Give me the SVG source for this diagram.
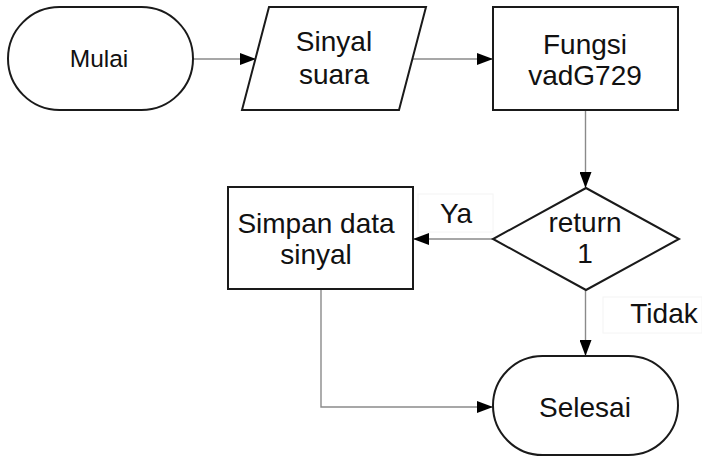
<svg xmlns="http://www.w3.org/2000/svg" width="702" height="457" viewBox="0 0 702 457">
  <style>
    .shape { fill: #ffffff; stroke: #1a1a1a; stroke-width: 2; }
    .edge { fill: none; stroke: #8a8a8a; stroke-width: 1.4; }
    .lblbox { fill: #ffffff; stroke: #f4f4f4; stroke-width: 1; }
    text { font-family: "Liberation Sans", Arial, sans-serif; font-size: 28px; fill: #111111; text-anchor: middle; }
    .small { font-size: 24.5px; }
  </style>
  <defs>
    <marker id="arrow" viewBox="0 0 16 12" refX="16" refY="6" markerWidth="16" markerHeight="12" markerUnits="userSpaceOnUse" orient="auto">
      <path d="M0,0 L16,6 L0,12 Z" fill="#000000"/>
    </marker>
  </defs>

  <rect width="702" height="457" fill="#ffffff"/>

  <!-- connectors -->
  <g id="connectors">
    <line class="edge" x1="193" y1="59" x2="256" y2="59" marker-end="url(#arrow)"/>
    <line class="edge" x1="413" y1="59" x2="493" y2="59" marker-end="url(#arrow)"/>
    <line class="edge" x1="585.5" y1="110" x2="585.5" y2="188" marker-end="url(#arrow)"/>
    <line class="edge" x1="493" y1="239" x2="413" y2="239" marker-end="url(#arrow)"/>
    <line class="edge" x1="585.5" y1="290" x2="585.5" y2="356" marker-end="url(#arrow)"/>
    <polyline class="edge" points="321,289 321,407 493,407" marker-end="url(#arrow)"/>
    <g id="label-ya">
      <rect class="lblbox" x="418" y="194" width="75" height="38"/>
      <text x="456" y="223">Ya</text>
    </g>
    <g id="label-tidak">
      <rect class="lblbox" x="603" y="297" width="99" height="36"/>
      <text x="664" y="323">Tidak</text>
    </g>
  </g>

  <!-- nodes -->
  <g id="mulai">
    <rect class="shape" x="8" y="7" width="185" height="103" rx="51.5" ry="51.5"/>
    <text class="small" x="99" y="67">Mulai</text>
  </g>

  <g id="sinyal-suara">
    <polygon class="shape" points="269,7 426,7 399,110 242,110"/>
    <text x="334" y="51">Sinyal</text>
    <text x="334" y="84">suara</text>
  </g>

  <g id="fungsi-vad">
    <rect class="shape" x="493" y="7" width="185" height="103"/>
    <text x="585" y="54">Fungsi</text>
    <text x="585" y="85">vadG729</text>
  </g>

  <g id="return-1">
    <polygon class="shape" points="586,188 679,239 586,290 493,239"/>
    <text x="585" y="232">return</text>
    <text x="585" y="263">1</text>
  </g>

  <g id="simpan-data">
    <rect class="shape" x="228" y="187" width="185" height="102"/>
    <text x="316" y="233">Simpan data</text>
    <text x="316" y="264">sinyal</text>
  </g>

  <g id="selesai">
    <rect class="shape" x="493" y="356" width="185" height="99" rx="49.5" ry="49.5"/>
    <text x="585" y="417">Selesai</text>
  </g>
</svg>
